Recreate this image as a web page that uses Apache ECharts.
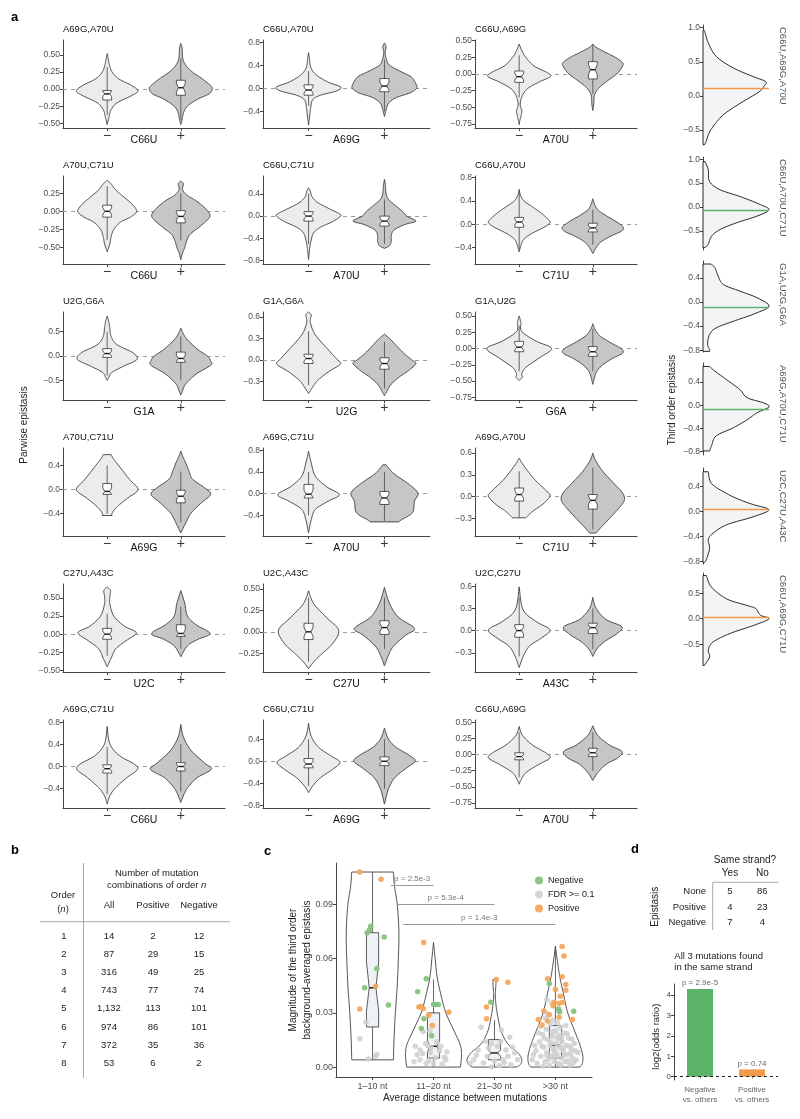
<!DOCTYPE html>
<html><head><meta charset="utf-8">
<script src="https://cdn.jsdelivr.net/npm/echarts@6/dist/echarts.min.js"></script>
<style>html,body{margin:0;padding:0;background:#fff}#chart{width:800px;height:1119px}</style>
</head><body><div id="chart"></div>
<script>
// ================= DATA =================
// ---- Panel a: pairwise epistasis split by presence of a third mutation ----
const pairTitles = ['A69G,A70U','C66U,A70U','C66U,A69G','A70U,C71U','C66U,C71U','C66U,A70U','U2G,G6A','G1A,G6A','G1A,U2G','A70U,C71U','A69G,C71U','A69G,A70U','C27U,A43C','U2C,A43C','U2C,C27U','A69G,C71U','C66U,C71U','C66U,A69G'];
const backgroundMutations = ['C66U','A69G','A70U','C66U','A70U','C71U','G1A','U2G','G6A','A69G','A70U','C71U','U2C','C27U','A43C','C66U','A69G','A70U'];
const presenceLabels = ['−','+'];
const pairYRange = [[-0.57,0.72],[-0.69,0.84],[-0.81,0.51],[-0.73,0.49],[-0.86,0.72],[-0.68,0.83],[-0.9,0.9],[-0.56,0.67],[-0.79,0.56],[-0.77,0.69],[-0.78,0.84],[-0.54,0.67],[-0.52,0.69],[-0.47,0.56],[-0.56,0.63],[-0.75,0.84],[-0.85,0.75],[-0.83,0.54]];
const pairYTicks = [[-0.5,-0.25,0,0.25,0.5],[-0.4,0,0.4,0.8],[-0.75,-0.5,-0.25,0,0.25,0.5],[-0.5,-0.25,0,0.25],[-0.8,-0.4,0,0.4],[-0.4,0,0.4,0.8],[-0.5,0,0.5],[-0.3,0,0.3,0.6],[-0.75,-0.5,-0.25,0,0.25,0.5],[-0.4,0,0.4],[-0.4,0,0.4,0.8],[-0.3,0,0.3,0.6],[-0.5,-0.25,0,0.25,0.5],[-0.25,0,0.25,0.5],[-0.3,0,0.3,0.6],[-0.4,0,0.4,0.8],[-0.8,-0.4,0,0.4],[-0.75,-0.5,-0.25,0,0.25,0.5]];
// violin profiles: [epistasis value, relative density]
const violinAbsent = [
 [[0.52,0],[0.45,0.03],[0.35,0.07],[0.25,0.15],[0.15,0.35],[0.05,0.75],[-0.03,0.93],[-0.1,0.72],[-0.2,0.3],[-0.3,0.12],[-0.4,0.06],[-0.52,0]],
 [[0.62,0],[0.5,0.03],[0.4,0.05],[0.3,0.12],[0.2,0.3],[0.1,0.6],[0.02,0.95],[-0.05,0.8],[-0.12,0.35],[-0.2,0.12],[-0.35,0.06],[-0.5,0.03],[-0.64,0]],
 [[0.45,0],[0.35,0.08],[0.25,0.2],[0.12,0.45],[0.02,0.85],[-0.04,0.94],[-0.12,0.6],[-0.22,0.25],[-0.32,0.1],[-0.45,0.03],[-0.55,0.08],[-0.62,0.06],[-0.7,0.02],[-0.76,0]],
 [[0.43,0],[0.38,0.12],[0.3,0.25],[0.2,0.5],[0.1,0.75],[0,0.89],[-0.08,0.7],[-0.15,0.4],[-0.25,0.2],[-0.35,0.12],[-0.45,0.08],[-0.56,0]],
 [[0.51,0],[0.45,0.05],[0.35,0.1],[0.25,0.25],[0.15,0.55],[0.05,0.88],[0,0.94],[-0.1,0.7],[-0.2,0.35],[-0.3,0.15],[-0.45,0.07],[-0.6,0.03],[-0.78,0]],
 [[0.6,0],[0.5,0.04],[0.4,0.15],[0.3,0.4],[0.2,0.65],[0.1,0.85],[0.03,0.93],[-0.05,0.75],[-0.15,0.4],[-0.25,0.15],[-0.35,0.06],[-0.47,0]],
 [[0.82,0],[0.7,0.05],[0.57,0.08],[0.4,0.12],[0.23,0.3],[0.07,0.77],[-0.07,0.9],[-0.2,0.52],[-0.33,0.15],[-0.42,0.06],[-0.5,0]],
 [[0.67,0],[0.63,0.08],[0.58,0.06],[0.51,0.06],[0.35,0.2],[0.12,0.62],[0,0.85],[-0.06,0.93],[-0.17,0.57],[-0.29,0.26],[-0.38,0.12],[-0.47,0]],
 [[0.5,0],[0.4,0.05],[0.26,0.08],[0.11,0.52],[0,0.98],[-0.14,0.62],[-0.29,0.2],[-0.39,0.08],[-0.44,0.1],[-0.49,0]],
 [[0.58,0.12],[0.5,0.2],[0.39,0.36],[0.17,0.67],[0,0.93],[-0.14,0.62],[-0.28,0.31],[-0.39,0.15],[-0.43,0.15]],
 [[0.78,0],[0.56,0.08],[0.32,0.2],[0.13,0.52],[-0.02,0.9],[-0.14,0.57],[-0.29,0.2],[-0.48,0.08],[-0.72,0]],
 [[0.53,0],[0.42,0.15],[0.24,0.46],[0.08,0.82],[0.01,0.93],[-0.1,0.72],[-0.2,0.41],[-0.29,0.2]],
 [[0.65,0],[0.6,0.1],[0.52,0.08],[0.42,0.08],[0.25,0.2],[0.11,0.52],[0.02,0.88],[-0.09,0.57],[-0.2,0.26],[-0.33,0.12],[-0.45,0]],
 [[0.48,0],[0.33,0.15],[0.17,0.52],[0.02,0.88],[-0.13,0.72],[-0.25,0.41],[-0.33,0.2],[-0.43,0]],
 [[0.59,0],[0.28,0.12],[0.12,0.52],[0.01,0.93],[-0.1,0.67],[-0.21,0.31],[-0.35,0.12],[-0.5,0]],
 [[0.72,0],[0.41,0.08],[0.2,0.36],[0.05,0.8],[-0.05,0.92],[-0.2,0.6],[-0.38,0.26],[-0.53,0.08],[-0.68,0]],
 [[0.69,0],[0.45,0.08],[0.25,0.3],[0.1,0.65],[-0.02,0.92],[-0.15,0.7],[-0.3,0.35],[-0.45,0.12],[-0.57,0]],
 [[0.44,0],[0.3,0.1],[0.15,0.4],[0.03,0.8],[-0.05,0.93],[-0.15,0.6],[-0.28,0.2],[-0.4,0.05],[-0.46,0]]
];
const violinPresent = [
 [[0.67,0],[0.6,0.04],[0.45,0.06],[0.35,0.15],[0.25,0.35],[0.15,0.65],[0.05,0.9],[0,0.95],[-0.07,0.85],[-0.15,0.5],[-0.25,0.2],[-0.35,0.08],[-0.45,0.04],[-0.52,0]],
 [[0.79,0],[0.72,0.05],[0.62,0.02],[0.5,0.06],[0.4,0.15],[0.3,0.45],[0.2,0.78],[0.08,0.92],[0,0.94],[-0.08,0.75],[-0.16,0.35],[-0.26,0.12],[-0.4,0.04],[-0.49,0]],
 [[0.45,0],[0.4,0.1],[0.32,0.4],[0.25,0.68],[0.17,0.9],[0.1,0.88],[0,0.72],[-0.1,0.45],[-0.2,0.2],[-0.28,0.08],[-0.35,0.04],[-0.45,0.03],[-0.55,0]],
 [[0.42,0],[0.38,0.08],[0.3,0.05],[0.22,0.2],[0.15,0.45],[0.05,0.72],[-0.05,0.88],[-0.12,0.8],[-0.22,0.55],[-0.32,0.28],[-0.42,0.17],[-0.5,0.12],[-0.58,0.05],[-0.67,0]],
 [[0.66,0],[0.55,0.03],[0.4,0.05],[0.3,0.12],[0.2,0.3],[0.1,0.5],[0,0.65],[-0.09,0.92],[-0.15,0.6],[-0.25,0.28],[-0.35,0.2],[-0.45,0.2],[-0.53,0.15],[-0.58,0]],
 [[0.44,0],[0.35,0.05],[0.25,0.15],[0.15,0.4],[0.05,0.7],[-0.05,0.92],[-0.12,0.85],[-0.2,0.55],[-0.3,0.25],[-0.4,0.1],[-0.5,0]],
 [[0.57,0],[0.45,0.08],[0.33,0.2],[0.13,0.52],[0,0.8],[-0.1,0.9],[-0.19,0.9],[-0.37,0.46],[-0.57,0.15],[-0.7,0.06],[-0.8,0]],
 [[0.36,0],[0.3,0.15],[0.2,0.35],[0.1,0.55],[0,0.8],[-0.05,0.92],[-0.15,0.7],[-0.25,0.4],[-0.35,0.18],[-0.45,0.06],[-0.5,0]],
 [[0.38,0],[0.3,0.06],[0.2,0.2],[0.1,0.5],[0,0.85],[-0.07,0.9],[-0.15,0.6],[-0.25,0.3],[-0.35,0.12],[-0.45,0.05],[-0.55,0]],
 [[0.64,0],[0.55,0.06],[0.44,0.15],[0.3,0.25],[0.17,0.36],[0.03,0.72],[-0.08,0.9],[-0.22,0.62],[-0.39,0.31],[-0.55,0.15],[-0.72,0]],
 [[0.53,0.05],[0.45,0.15],[0.35,0.31],[0.17,0.72],[0.01,0.98],[-0.14,0.88],[-0.35,0.82],[-0.48,0.5],[-0.52,0.42]],
 [[0.6,0],[0.5,0.08],[0.35,0.3],[0.2,0.6],[0.05,0.9],[-0.05,0.95],[-0.15,0.8],[-0.3,0.5],[-0.42,0.25],[-0.5,0.1]],
 [[0.6,0],[0.42,0.12],[0.25,0.2],[0.13,0.46],[0.01,0.88],[-0.07,0.52],[-0.16,0.2],[-0.31,0]],
 [[0.52,0],[0.33,0.15],[0.17,0.41],[0.04,0.88],[-0.04,0.62],[-0.17,0.26],[-0.29,0.1],[-0.4,0]],
 [[0.45,0],[0.3,0.1],[0.15,0.4],[0.05,0.88],[-0.05,0.7],[-0.15,0.35],[-0.25,0.12],[-0.35,0]],
 [[0.76,0],[0.53,0.08],[0.29,0.31],[0.06,0.72],[-0.05,0.92],[-0.2,0.5],[-0.35,0.25],[-0.47,0.12],[-0.65,0]],
 [[0.6,0],[0.4,0.12],[0.25,0.35],[0.1,0.75],[0,0.9],[-0.12,0.65],[-0.3,0.3],[-0.5,0.12],[-0.65,0.05],[-0.78,0]],
 [[0.45,0],[0.3,0.15],[0.15,0.5],[0.05,0.88],[-0.05,0.75],[-0.15,0.4],[-0.28,0.15],[-0.4,0]]
];
// box statistics: [lower whisker, q1, median, q3, upper whisker]
const boxAbsent = [[-0.38,-0.16,-0.07,-0.02,0.32],[-0.3,-0.12,-0.03,0.06,0.3],[-0.35,-0.125,-0.04,0.045,0.28],[-0.4,-0.08,0,0.086,0.35],[-0.5,-0.09,0,0.08,0.4],[-0.45,-0.05,0.04,0.12,0.58],[-0.4,-0.03,0.05,0.15,0.5],[-0.35,-0.05,0.02,0.08,0.4],[-0.35,-0.05,0.02,0.11,0.35],[-0.4,-0.08,-0.03,0.1,0.4],[-0.4,-0.08,-0.01,0.17,0.4],[-0.29,-0.06,0.03,0.12,0.35],[-0.3,-0.07,0,0.08,0.28],[-0.35,-0.09,0,0.1,0.4],[-0.35,-0.09,0,0.08,0.45],[-0.5,-0.12,-0.04,0.03,0.35],[-0.45,-0.12,-0.05,0.05,0.4],[-0.35,-0.08,-0.03,0.03,0.35]];
const boxPresent = [[-0.45,-0.09,0.02,0.13,0.45],[-0.4,-0.06,0.04,0.17,0.5],[-0.3,-0.075,0.065,0.185,0.45],[-0.4,-0.16,-0.07,0.01,0.25],[-0.5,-0.18,-0.09,0,0.3],[-0.35,-0.13,-0.06,0.02,0.25],[-0.5,-0.13,-0.05,0.08,0.4],[-0.4,-0.13,-0.05,0.03,0.25],[-0.35,-0.12,-0.05,0.03,0.3],[-0.55,-0.22,-0.11,-0.01,0.3],[-0.5,-0.2,-0.08,0.04,0.4],[-0.45,-0.17,-0.05,0.03,0.4],[-0.2,-0.03,0.01,0.13,0.38],[-0.2,-0.03,0.05,0.13,0.4],[-0.25,-0.04,0.04,0.1,0.3],[-0.45,-0.08,0,0.07,0.4],[-0.5,-0.08,0,0.08,0.4],[-0.25,-0.03,0.03,0.1,0.35]];

// ---- Panel a (right column): third-order epistasis distributions ----
const tripleLabels = ['C66U,A69G,A70U','C66U,A70U,C71U','G1A,U2G,G6A','A69G,A70U,C71U','U2C,C27U,A43C','C66U,A69G,C71U'];
const tripleObserved = [0.11,-0.07,-0.08,-0.07,0.04,0.03];
const tripleSign = ['positive','negative','negative','negative','positive','positive'];
const tripleYRange = [[-0.72,1.04],[-0.9,1.046],[-0.83,0.68],[-0.86,0.73],[-0.84,0.7],[-0.91,0.9]];
const tripleYTicks = [[-0.5,0,0.5,1.0],[-0.5,0,0.5,1.0],[-0.8,-0.4,0,0.4],[-0.8,-0.4,0,0.4],[-0.8,-0.4,0,0.4],[-0.5,0,0.5]];
const tripleDensity = [
 [[0.96,0.02],[0.9,0.04],[0.78,0.08],[0.58,0.2],[0.41,0.46],[0.28,0.77],[0.21,0.95],[0.15,0.93],[0.06,0.85],[-0.11,0.56],[-0.26,0.33],[-0.39,0.2],[-0.53,0.1],[-0.66,0.05],[-0.71,0.03]],
 [[0.95,0.03],[0.78,0.08],[0.53,0.1],[0.36,0.26],[0.22,0.56],[0.05,0.87],[-0.06,1.0],[-0.19,0.82],[-0.33,0.51],[-0.47,0.26],[-0.61,0.13],[-0.78,0.08],[-0.85,0.03]],
 [[0.63,0.12],[0.57,0.18],[0.43,0.23],[0.29,0.31],[0.18,0.56],[0.07,0.82],[-0.07,1.0],[-0.2,0.77],[-0.32,0.46],[-0.43,0.2],[-0.54,0.1],[-0.7,0.07],[-0.79,0.1],[-0.82,0.1]],
 [[0.67,0.1],[0.59,0.18],[0.44,0.36],[0.27,0.56],[0.13,0.67],[0.04,0.92],[-0.03,1.0],[-0.13,0.82],[-0.25,0.67],[-0.39,0.46],[-0.53,0.2],[-0.7,0.13],[-0.79,0.1]],
 [[0.64,0.08],[0.45,0.13],[0.29,0.36],[0.19,0.56],[0.11,0.77],[0.03,1.0],[-0.08,0.77],[-0.21,0.36],[-0.35,0.15],[-0.45,0.08],[-0.59,0.1],[-0.77,0.05],[-0.82,0.02]],
 [[0.85,0.05],[0.62,0.13],[0.39,0.36],[0.26,0.67],[0.2,0.8],[0.07,0.87],[0,1.0],[-0.13,0.77],[-0.29,0.41],[-0.46,0.15],[-0.62,0.08],[-0.75,0.1],[-0.92,0.02]]
];

// ---- Panel b: table ----
const orderN = [1,2,3,4,5,6,7,8];
const combAll = [14,87,316,743,1132,974,372,53];
const combPositive = [2,29,49,77,113,86,35,6];
const combNegative = [12,15,25,74,101,101,36,2];

// ---- Panel c ----
const distanceBins = ['1–10 nt','11–20 nt','21–30 nt','>30 nt'];
const binProfiles = [
 [[0.108,0.76],[0.1,0.8],[0.09,0.9],[0.075,0.96],[0.06,0.94],[0.045,0.9],[0.03,0.83],[0.015,0.78],[0.004,0.76]],
 [[0.069,0],[0.06,0.06],[0.05,0.13],[0.04,0.27],[0.03,0.45],[0.02,0.75],[0.012,0.98],[0.006,1.02],[0.0,0.98]],
 [[0.0485,0.06],[0.045,0.05],[0.04,0.03],[0.035,0.05],[0.028,0.12],[0.02,0.24],[0.013,0.48],[0.008,0.85],[0.004,1.0],[0.001,0.92],[0.0,0.8]],
 [[0.067,0],[0.06,0.06],[0.05,0.16],[0.04,0.3],[0.03,0.45],[0.02,0.7],[0.012,0.9],[0.006,1.0],[0.002,0.98],[0.0,0.9]]
];
// [lower whisker, q1, median, q3, upper whisker, notch low, notch high]
const binBoxes = [[0.004,0.0222,0.0439,0.0744,0.108,0.031,0.058],[0.0,0.005,0.0115,0.03,0.0485,0.0085,0.0145],[0.0,0.004,0.0078,0.0152,0.026,0.006,0.0095],[0.0,0.005,0.012,0.023,0.066,0.0105,0.0135]];
const pointsNegative = [[0.97,0.078],[0.95,0.076],[0.91,0.0744],[1.19,0.072],[1.07,0.0544],[0.87,0.0439],[1.26,0.0343],
 [1.88,0.0489],[1.74,0.0417],[2.0,0.0346],[2.08,0.0346],[2.04,0.0346],[1.84,0.0267],[1.8,0.0213],[1.97,0.0174],
 [2.94,0.0359],[3.9,0.0463],[4.05,0.0322],[4.07,0.0306],[4.3,0.0309]];
const pointsPositive = [[0.79,0.108],[1.14,0.104],[1.05,0.0448],[0.79,0.0322],
 [1.84,0.069],[1.79,0.0335],[1.83,0.0325],[1.92,0.0287],[2.25,0.0304],[1.98,0.023],[1.76,0.0333],
 [3.03,0.0485],[3.22,0.047],[2.87,0.0333],[2.87,0.0267],
 [4.11,0.0667],[4.14,0.0615],[4.11,0.05],[4.17,0.0457],[4.17,0.0426],[4.12,0.0359],[4.28,0.0263],[3.87,0.0489],[4.0,0.043],[4.08,0.0392],[3.98,0.0359],[4.06,0.0352],[3.81,0.031],[3.72,0.0263],[3.9,0.029],[4.06,0.0276],[3.78,0.0233],[3.87,0.0255],[3.96,0.034]];
const pointsNotSignificant = [[0.89,0.0248],[0.79,0.0157],[0.93,0.0044],[1.07,0.0069],[1.05,0.006],
 [1.94,0.02],[1.83,0.0195],[1.87,0.013],[2.05,0.014],[1.7,0.0115],[1.78,0.0095],[1.95,0.008],[2.1,0.009],[2.2,0.004],[1.78,0.004],[2.0,0.002],[2.14,0.0015],[1.88,0.002],[2.18,0.0055],[1.9,0.012],[2.03,0.0052],[1.73,0.0068],[1.96,0.0107],[2.12,0.0115],[1.82,0.0075],[1.92,0.0035],[2.22,0.0085],[1.68,0.003],
 [2.78,0.022],[3.11,0.0205],[3.25,0.0165],[2.95,0.013],[2.73,0.0095],[3.05,0.0115],[3.19,0.0095],[3.33,0.0078],[2.88,0.006],[2.66,0.004],[3.0,0.0033],[3.14,0.0041],[3.38,0.004],[2.82,0.0022],[3.27,0.0013],[3.08,0.0008],[2.95,0.0001],[2.7,0.0065],[3.22,0.006],[2.9,0.0105],[3.1,0.014],[2.85,0.0145],[3.3,0.011],[2.6,0.002],[3.16,0.0025],
 [3.86,0.0374],[3.94,0.0355],[3.62,0.004],[3.68,0.009],[3.7,0.002],[3.74,0.014],[3.76,0.006],[3.79,0.018],[3.81,0.011],[3.83,0.003],[3.85,0.021],[3.86,0.008],[3.88,0.015],[3.9,0.001],[3.91,0.012],[3.92,0.024],[3.94,0.006],[3.95,0.017],[3.97,0.01],[3.98,0.003],[4.0,0.02],[4.01,0.013],[4.02,0.007],[4.04,0.016],[4.05,0.002],[4.07,0.011],[4.08,0.022],[4.1,0.005],[4.11,0.014],[4.13,0.009],[4.14,0.019],[4.16,0.003],[4.18,0.012],[4.2,0.007],[4.22,0.016],[4.24,0.001],[4.26,0.01],[4.28,0.005],[4.31,0.013],[4.34,0.004],[4.37,0.008],[3.66,0.012],[3.72,0.019],[3.8,0.0005],[3.84,0.027],[3.89,0.0045],[3.93,0.0135],[3.99,0.0085],[4.03,0.0245],[4.06,0.0175],[4.09,0.0012],[4.12,0.0105],[4.15,0.0065],[4.19,0.0185],[4.23,0.0115],[4.27,0.0155],[4.3,0.0025],[3.75,0.0225],[3.87,0.0295],[3.96,0.026],[4.17,0.023],[4.06,0.031],[3.82,0.016],[4.21,0.0035],[3.64,0.007],[4.33,0.009],[3.78,0.0115],[4.0,0.0055],[4.1,0.0165],[3.95,0.0195],[3.86,0.0065],[4.25,0.0075]];
const compareFrom = [1.3,1.4,1.5];
const compareTo = [2,3,4];
const compareY = [0.1007,0.0902,0.0791];
const compareP = ['p = 2.5e-3','p = 5.3e-4','p = 1.4e-3'];

// ---- Panel d ----
const strandEpistasis = ['None','Positive','Negative'];
const strandYes = [5,4,7];
const strandNo = [86,23,4];
const oddsCategories = ['Negative\nvs. others','Positive\nvs. others'];
const oddsLog2 = [4.3,0.36];
const oddsP = ['p = 2.9e-5','p = 0.74'];

// ================= RENDERING =================
const FONT = '"Liberation Sans", Arial, Helvetica, sans-serif';
const GREEN = '#5cb46a', ORANGE = '#f39a4a';
const grids = [], xAxes = [], yAxes = [], series = [], graphic = [];
function addGrid(g, xa, ya){ const i = grids.length; grids.push(g); xa.gridIndex = i; ya.gridIndex = i; xAxes.push(xa); yAxes.push(ya); return i; }
function text(x, y, s, st, extra){ graphic.push(Object.assign({type:'text', x:x, y:y, z:100, silent:true, style:Object.assign({text:s, fontFamily:FONT, fontSize:10, fill:'#222', align:'center', verticalAlign:'middle'}, st||{})}, extra||{})); }
function hline(x1,y1,x2,y2,color,w){ graphic.push({type:'line', z:100, silent:true, shape:{x1:x1,y1:y1,x2:x2,y2:y2}, style:{stroke:color||'#aaa', lineWidth:w||1}}); }
function decimals(ticks){ return Math.max.apply(null, ticks.map(t => (String(t).split('.')[1]||'').length)); }
function tickFmt(dec){ return v => (v < -1e-9 ? '−' : '') + Math.abs(v).toFixed(dec); }
function catmull(pts, seg){
  if (pts.length < 3) return pts;
  const out = [];
  for (let i = 0; i < pts.length - 1; i++) {
    const p0 = pts[i-1] || pts[i], p1 = pts[i], p2 = pts[i+1], p3 = pts[i+2] || pts[i+1];
    for (let s = 0; s < seg; s++) {
      const t = s/seg, t2 = t*t, t3 = t2*t;
      const f = k => 0.5*((2*p1[k]) + (-p0[k]+p2[k])*t + (2*p0[k]-5*p1[k]+4*p2[k]-p3[k])*t2 + (-p0[k]+3*p1[k]-3*p2[k]+p3[k])*t3);
      out.push([f(0), f(1)]);
    }
  }
  out.push(pts[pts.length-1]);
  return out;
}
function valueYAxis(range, ticks, fs, color){
  const fmt = tickFmt(decimals(ticks));
  return {type:'value', min:range[0], max:range[1],
    axisLine:{show:true, onZero:false, lineStyle:{color:'#444', width:1}},
    axisTick:{show:true, customValues:ticks, length:3, lineStyle:{color:'#444'}},
    axisLabel:{customValues:ticks, formatter:fmt, fontSize:fs||8.5, color:color||'#4d4d4d', fontFamily:FONT, margin:3},
    splitLine:{show:false}};
}
function violinGroup(api, pos, prof, box, fill, halfW, boxHW, notch){
  const cx = api.coord([pos, 0])[0];
  const right = catmull(prof.map(p => api.coord([pos + p[1]*halfW, p[0]])), 8).map(q => [Math.max(q[0], cx), q[1]]);
  const left = right.map(q => [2*cx - q[0], q[1]]).reverse();
  const [wlo, q1, med, q3, whi] = box;
  const nlo = notch ? notch[0] : Math.max(q1, med - 0.3*(q3-q1));
  const nhi = notch ? notch[1] : Math.min(q3, med + 0.3*(q3-q1));
  const bw = boxHW, nw = boxHW*0.55;
  const bpts = [[pos-bw,q3],[pos+bw,q3],[pos+bw,nhi],[pos+nw,med],[pos+bw,nlo],[pos+bw,q1],[pos-bw,q1],[pos-bw,nlo],[pos-nw,med],[pos-bw,nhi]].map(p => api.coord(p));
  const w1 = api.coord([pos, wlo]), w2 = api.coord([pos, whi]);
  const m1 = api.coord([pos-nw, med]), m2 = api.coord([pos+nw, med]);
  return {type:'group', children:[
    {type:'polygon', shape:{points:right.concat(left)}, style:{fill:fill, stroke:'#333', lineWidth:0.85}},
    {type:'line', shape:{x1:w1[0], y1:w1[1], x2:w2[0], y2:w2[1]}, style:{stroke:'#555', lineWidth:0.9}},
    {type:'polygon', shape:{points:bpts}, style:{fill:notch ? '#eef1f5' : '#ffffff', stroke:'#333', lineWidth:0.8}},
    {type:'line', shape:{x1:m1[0], y1:m1[1], x2:m2[0], y2:m2[1]}, style:{stroke:'#111', lineWidth:1.4}}
  ]};
}

// ---- Panel a grids ----
const colLeft = [63, 263, 475], colWidth = [162, 167, 162];
const rowBottom = [128, 264, 400, 536, 672, 808], plotH = 88;
for (let i = 0; i < pairTitles.length; i++) {
  const r = Math.floor(i/3), c = i % 3;
  const top = rowBottom[r] - plotH;
  const gi = addGrid({left:colLeft[c], top:top, width:colWidth[c], height:plotH},
    {type:'value', min:0.4, max:2.6,
     axisLine:{show:true, onZero:false, lineStyle:{color:'#444', width:1}},
     axisTick:{show:true, customValues:[1,2], length:3, lineStyle:{color:'#444'}},
     axisLabel:{customValues:[1,2], formatter:v => presenceLabels[Math.round(v)-1], fontSize:14, color:'#333', fontFamily:FONT, margin:1},
     splitLine:{show:false}},
    valueYAxis(pairYRange[i], pairYTicks[i]));
  const profs = [violinAbsent[i], violinPresent[i]], boxes = [boxAbsent[i], boxPresent[i]];
  series.push({type:'custom', xAxisIndex:gi, yAxisIndex:gi, z:3, data:[[1,0],[2,0]], encode:{x:0, y:1},
    renderItem:(params, api) => violinGroup(api, api.value(0), profs[params.dataIndex], boxes[params.dataIndex], params.dataIndex === 0 ? '#ececec' : '#c6c6c6', 0.45, 0.06, null),
    markLine:{silent:true, z:1, symbol:['none','none'], label:{show:false}, lineStyle:{color:'#9a9a9a', type:[4,4], width:1}, data:[{yAxis:0}]}
  });
  text(colLeft[c], top - 11, pairTitles[i], {fontSize:9.5, align:'left', fill:'#111'});
  text(colLeft[c] + colWidth[c]/2, rowBottom[r] + 12, backgroundMutations[i], {fontSize:10.5, fill:'#111'});
}
text(24, 425, 'Parwise epistasis', {fontSize:10}, {rotation:Math.PI/2});

// ---- Panel a right column ----
const densTop = [25, 157, 261, 363, 468, 573], densBottom = [145, 250, 352, 455, 564, 665];
for (let i = 0; i < tripleLabels.length; i++) {
  const gi = addGrid({left:703, top:densTop[i], width:66, height:densBottom[i]-densTop[i]},
    {type:'value', min:0, max:1, show:false, splitLine:{show:false}},
    valueYAxis(tripleYRange[i], tripleYTicks[i]));
  const dens = tripleDensity[i];
  series.push({type:'custom', xAxisIndex:gi, yAxisIndex:gi, z:2, data:[[0,0]], encode:{x:0,y:1},
    renderItem:(params, api) => {
      const curve = catmull(dens.map(p => api.coord([p[1], p[0]])), 8);
      const x0 = api.coord([0, 0])[0];
      const pts = [[x0, curve[0][1]]].concat(curve.map(q => [Math.max(q[0], x0), q[1]])).concat([[x0, curve[curve.length-1][1]]]);
      return {type:'polygon', shape:{points:pts}, style:{fill:'#f3f4f6', stroke:'#111', lineWidth:0.9}};
    },
    markLine:{silent:true, z:5, symbol:['none','none'], label:{show:false}, lineStyle:{color:tripleSign[i] === 'positive' ? ORANGE : GREEN, type:'solid', width:1.3}, data:[{yAxis:tripleObserved[i]}]}
  });
  text(783, densTop[i] + 2, tripleLabels[i], {fontSize:9.5, align:'left', fill:'#555'}, {rotation:-Math.PI/2});
}
text(672, 400, 'Third order epistasis', {fontSize:10}, {rotation:Math.PI/2});

// ---- Panel b table ----
const tb = {fontSize:9.5, fill:'#222'};
text(63, 895, 'Order', tb);
text(63, 909, '({i|n})', Object.assign({rich:{i:{fontStyle:'italic', fontSize:9.5, fontFamily:FONT, fill:'#222'}}}, tb));
text(156.7, 873, 'Number of mutation', tb);
text(156.7, 885.5, 'combinations of order {i|n}', Object.assign({rich:{i:{fontStyle:'italic', fontSize:9.5, fontFamily:FONT, fill:'#222'}}}, tb));
text(109, 905, 'All', tb); text(153, 905, 'Positive', tb); text(199, 905, 'Negative', tb);
hline(83.5, 863, 83.5, 1078, '#aaa', 1);
hline(40, 921.7, 230, 921.7, '#aaa', 1);
for (let k = 0; k < orderN.length; k++) {
  const y = 936 + 18.2*k;
  text(64, y, String(orderN[k]), tb);
  text(109, y, combAll[k].toLocaleString('en-US'), tb);
  text(153, y, String(combPositive[k]), tb);
  text(199, y, String(combNegative[k]), tb);
}

// ---- Panel c ----
const gc = addGrid({left:336, top:863, width:256, height:214},
  {type:'value', min:0.4, max:4.6,
   axisLine:{show:true, onZero:false, lineStyle:{color:'#444', width:1}},
   axisTick:{show:true, customValues:[1,2,3,4], length:3, lineStyle:{color:'#444'}},
   axisLabel:{customValues:[1,2,3,4], formatter:v => distanceBins[Math.round(v)-1], fontSize:9, color:'#4d4d4d', fontFamily:FONT, margin:5},
   splitLine:{show:false}},
  valueYAxis([-0.0055, 0.113], [0, 0.03, 0.06, 0.09], 9));
series.push({type:'custom', xAxisIndex:gc, yAxisIndex:gc, z:2, data:[[1,0],[2,0],[3,0],[4,0]], encode:{x:0,y:1},
  renderItem:(params, api) => { const k = params.dataIndex; const b = binBoxes[k]; return violinGroup(api, api.value(0), binProfiles[k], b.slice(0,5), '#ffffff', 0.45, 0.1, [b[5], b[6]]); },
  markLine:{silent:true, z:5, symbol:['none','none'], lineStyle:{color:'#999', type:'solid', width:1},
    label:{show:true, position:'middle', distance:2, fontSize:8, color:'#777', fontFamily:FONT},
    data:compareP.map((p, k) => [{coord:[compareFrom[k], compareY[k]], label:{formatter:p}}, {coord:[compareTo[k], compareY[k]]}])}
});
const scatterBase = {type:'scatter', xAxisIndex:gc, yAxisIndex:gc, symbolSize:5.5, z:4};
series.push(Object.assign({}, scatterBase, {name:'FDR >= 0.1', data:pointsNotSignificant, itemStyle:{color:'#cfcfcf', opacity:0.85}}));
series.push(Object.assign({}, scatterBase, {name:'Negative', data:pointsNegative, itemStyle:{color:'#86c27f', opacity:0.95}}));
series.push(Object.assign({}, scatterBase, {name:'Positive', data:pointsPositive, itemStyle:{color:'#f7a55c', opacity:0.95}}));
text(300, 970, 'Magnitude of the third order\nbackground-averaged epistasis', {fontSize:10, lineHeight:13.5}, {rotation:Math.PI/2});
text(465, 1098, 'Average distance between mutations', {fontSize:10});

// ---- Panel d table ----
text(745, 860, 'Same strand?', {fontSize:10});
text(730, 873.3, 'Yes', {fontSize:10}); text(762.3, 873.3, 'No', {fontSize:10});
hline(712.7, 882.3, 778.3, 882.3, '#aaa', 1);
hline(712.7, 882.3, 712.7, 930, '#aaa', 1);
for (let k = 0; k < strandEpistasis.length; k++) {
  const y = 891.7 + 15.3*k;
  text(706, y, strandEpistasis[k], {fontSize:9.5, align:'right'});
  text(730, y, String(strandYes[k]), {fontSize:9.5});
  text(762.3, y, String(strandNo[k]), {fontSize:9.5});
}
text(655, 906.7, 'Epistasis', {fontSize:10}, {rotation:Math.PI/2});
text(674.3, 956, 'All 3 mutations found', {fontSize:9.5, align:'left'});
text(674.3, 967, 'in the same strand', {fontSize:9.5, align:'left'});

// ---- Panel d bar chart ----
const gd = addGrid({left:674, top:984, width:104, height:96},
  {type:'category', data:oddsCategories,
   axisLine:{show:false}, axisTick:{show:true, alignWithLabel:true, length:2, lineStyle:{color:'#999'}},
   axisLabel:{fontSize:8, color:'#666', fontFamily:FONT, margin:5, lineHeight:10}},
  valueYAxis([-0.16, 4.55], [0,1,2,3,4], 8, '#444'));
series.push({type:'bar', xAxisIndex:gd, yAxisIndex:gd, barWidth:26, z:2,
  data:oddsLog2.map((v, k) => ({value:v, itemStyle:{color:k === 0 ? GREEN : ORANGE}, label:{formatter:oddsP[k]}})),
  label:{show:true, position:'top', distance:2, fontSize:8, color:'#666', fontFamily:FONT},
  markLine:{silent:true, z:5, symbol:['none','none'], label:{show:false}, lineStyle:{color:'#222', type:[3,3], width:1}, data:[{yAxis:0}]}
});
text(656.7, 1036.7, 'log2(odds ratio)', {fontSize:9.5}, {rotation:Math.PI/2});

// ---- panel letters ----
const letterStyle = {fontSize:13, fontWeight:'bold', fill:'#000', align:'left'};
text(11, 17, 'a', letterStyle); text(11, 850, 'b', letterStyle); text(264, 851, 'c', letterStyle); text(631, 849, 'd', letterStyle);

const chart = echarts.init(document.getElementById('chart'), null, {renderer:'canvas', width:800, height:1119});
chart.setOption({
  animation:false, backgroundColor:'#ffffff',
  textStyle:{fontFamily:FONT},
  grid:grids, xAxis:xAxes, yAxis:yAxes, series:series, graphic:graphic,
  legend:{orient:'vertical', left:530, top:871, itemWidth:8, itemHeight:8, itemGap:5, icon:'circle',
    data:['Negative','FDR >= 0.1','Positive'], textStyle:{fontSize:9, color:'#222', fontFamily:FONT}}
});
</script></body></html>
